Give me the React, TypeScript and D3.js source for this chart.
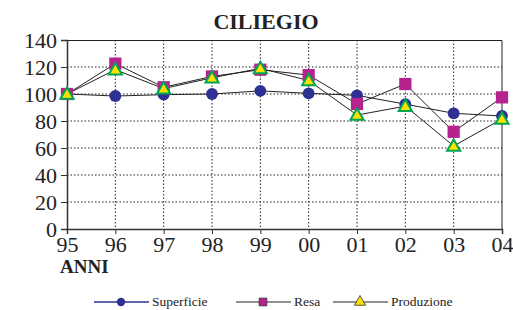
import { useEffect, useRef } from "react";
import * as d3 from "d3";

const years = ["95", "96", "97", "98", "99", "00", "01", "02", "03", "04"];
const superficie = [100, 98.5, 99.5, 100, 102.3, 100.5, 99, 92.5, 85.7, 83.7];
const resa = [100, 122.5, 105, 113, 118, 114, 92.6, 107.4, 72, 97.5];
const produzione = [100, 118, 104, 112, 119, 110, 84.4, 91, 61.5, 81.5];
const yTicks = [0, 20, 40, 60, 80, 100, 120, 140];

const W = 513;
const H = 310;
const margin = { top: 40, right: 11, bottom: 81, left: 67 };
const FONT = "'Liberation Serif', 'Times New Roman', serif";

export default function App() {
  const svgRef = useRef<SVGSVGElement>(null);

  useEffect(() => {
    if (!svgRef.current) return;
    const svg = d3.select(svgRef.current);
    svg.selectAll("*").remove();

    const innerW = W - margin.left - margin.right;
    const innerH = H - margin.top - margin.bottom;

    const x = d3.scalePoint<string>().domain(years).range([0, innerW]);
    const y = d3.scaleLinear().domain([0, 140]).range([innerH, 0]);

    const g = svg
      .append("g")
      .attr("transform", `translate(${margin.left},${margin.top})`);

    // grid
    g.selectAll(".hgrid")
      .data(yTicks.filter((t) => t > 0 && t < 140))
      .enter()
      .append("line")
      .attr("x1", 0)
      .attr("x2", innerW)
      .attr("y1", (d) => y(d))
      .attr("y2", (d) => y(d))
      .attr("stroke", "#222")
      .attr("stroke-width", 1)
      .attr("stroke-dasharray", "1.5,2");

    g.selectAll(".vgrid")
      .data(years.slice(1, -1))
      .enter()
      .append("line")
      .attr("x1", (d) => x(d)!)
      .attr("x2", (d) => x(d)!)
      .attr("y1", 0)
      .attr("y2", innerH)
      .attr("stroke", "#222")
      .attr("stroke-width", 1)
      .attr("stroke-dasharray", "1.5,2");

    // frame top/right
    g.append("path")
      .attr("d", `M0,0.5H${innerW}V${innerH}`)
      .attr("fill", "none")
      .attr("stroke", "#222")
      .attr("stroke-width", 1);

    const yAxis = g
      .append("g")
      .call(d3.axisLeft(y).tickValues(yTicks).tickSize(6).tickPadding(4));
    yAxis.select(".domain").attr("stroke", "#333").attr("stroke-width", 1.5);
    yAxis.selectAll("line").attr("stroke", "#333");
    yAxis
      .selectAll("text")
      .style("font-family", FONT)
      .style("font-size", "22px")
      .attr("fill", "#222");

    const xAxis = g
      .append("g")
      .attr("transform", `translate(0,${innerH})`)
      .call(d3.axisBottom(x).tickSize(5).tickPadding(2));
    xAxis.select(".domain").attr("stroke", "#333").attr("stroke-width", 1.5);
    xAxis.selectAll("line").attr("stroke", "#333");
    xAxis
      .selectAll("text")
      .style("font-family", FONT)
      .style("font-size", "22px")
      .attr("fill", "#222");

    const line = d3
      .line<number>()
      .x((_d, i) => x(years[i])!)
      .y((d) => y(d));

    [superficie, resa, produzione].forEach((s) => {
      g.append("path")
        .attr("d", line(s)!)
        .attr("fill", "none")
        .attr("stroke", "#222")
        .attr("stroke-width", 1);
    });

    const circ = d3.symbol().type(d3.symbolCircle).size(110);
    const sq = d3.symbol().type(d3.symbolSquare).size(150);
    const tri = d3.symbol().type(d3.symbolTriangle).size(75);

    g.selectAll(".sup")
      .data(superficie)
      .enter()
      .append("path")
      .attr("d", circ()!)
      .attr("transform", (d, i) => `translate(${x(years[i])},${y(d)})`)
      .attr("fill", "#2E3192");

    g.selectAll(".resa")
      .data(resa)
      .enter()
      .append("path")
      .attr("d", sq()!)
      .attr("transform", (d, i) => `translate(${x(years[i])},${y(d)})`)
      .attr("fill", "#B5248E");

    g.selectAll(".prod")
      .data(produzione)
      .enter()
      .append("path")
      .attr("d", tri()!)
      .attr("transform", (d, i) => `translate(${x(years[i])},${y(d) + 1})`)
      .attr("fill", "#FFE000")
      .attr("stroke", "#00A650")
      .attr("stroke-width", 2);

    // title
    svg
      .append("text")
      .attr("x", 266)
      .attr("y", 29)
      .attr("text-anchor", "middle")
      .style("font-family", FONT)
      .style("font-size", "22px")
      .style("font-weight", "bold")
      .attr("fill", "#222")
      .text("CILIEGIO");

    svg
      .append("text")
      .attr("x", 60)
      .attr("y", 273)
      .style("font-family", FONT)
      .style("font-size", "19px")
      .style("font-weight", "bold")
      .attr("fill", "#222")
      .text("ANNI");

    // legend
    const legendItems = [
      { name: "Superficie", x0: 94, stroke: "#2E3192", sym: d3.symbol().type(d3.symbolCircle).size(55), fill: "#2E3192", sw: 0 },
      { name: "Resa", x0: 236, stroke: "#222", sym: d3.symbol().type(d3.symbolSquare).size(60), fill: "#B5248E", sw: 0.8 },
      { name: "Produzione", x0: 333, stroke: "#222", sym: d3.symbol().type(d3.symbolTriangle).size(55), fill: "#FFE000", sw: 0.8 },
    ];
    const ly = 302;
    legendItems.forEach((it) => {
      const lg = svg.append("g");
      lg.append("line")
        .attr("x1", it.x0)
        .attr("x2", it.x0 + 55)
        .attr("y1", ly)
        .attr("y2", ly)
        .attr("stroke", it.stroke)
        .attr("stroke-width", it.name === "Superficie" ? 1.5 : 1);
      lg.append("path")
        .attr("d", it.sym()!)
        .attr("transform", `translate(${it.x0 + 27},${ly})`)
        .attr("fill", it.fill)
        .attr("stroke", it.sw ? "#333" : "none")
        .attr("stroke-width", it.sw);
      lg.append("text")
        .attr("x", it.x0 + 58)
        .attr("y", 306)
        .style("font-family", FONT)
        .style("font-size", "13.5px")
        .attr("fill", "#222")
        .text(it.name);
    });
  }, []);

  return (
    <svg
      ref={svgRef}
      width={W}
      height={H}
      style={{ position: "absolute", left: 0, top: 0, background: "#fff" }}
    />
  );
}
